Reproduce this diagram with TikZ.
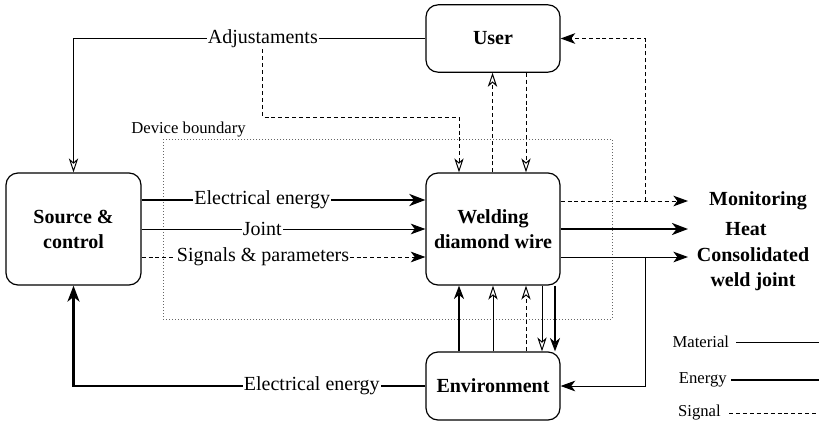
\documentclass[tikz,border=0pt]{standalone}
\usepackage{fontspec}
\setmainfont{Liberation Serif}
\usetikzlibrary{arrows.meta}
\begin{document}
\begin{tikzpicture}[x=0.75pt,y=-0.75pt,
  box/.style={draw,line width=0.9pt,rounded corners=9pt,align=center,
    font=\bfseries\fontsize{15}{18.75}\selectfont,minimum width=100.5pt},
  lbl/.style={fill=white,inner xsep=0.8pt,inner ysep=1pt,font=\fontsize{15}{18}\selectfont},
  outlbl/.style={font=\bfseries\fontsize{15}{18.75}\selectfont,align=center,inner sep=0pt},
  leg/.style={font=\fontsize{12.5}{15}\selectfont,anchor=east},
  mat/.style={line width=0.75pt},
  en/.style={line width=1.9pt},
  sig/.style={line width=0.75pt,dash pattern=on 3pt off 2.2pt},
  fa/.style={-{Stealth[length=11pt,width=8pt,inset=3pt]}},
  fat/.style={-{Stealth[length=12pt,width=9pt,inset=3.5pt]}},
  oa/.style={-{Stealth[open,length=10.5pt,width=7pt,inset=3pt]}},
  oat/.style={-{Stealth[open,length=10pt,width=7.5pt,inset=3pt,line width=1.5pt]}},
]
\useasboundingbox (0,0) rectangle (820,425);

% device boundary
\draw[line width=0.6pt,gray!80!black,dash pattern=on 0.75pt off 1.5pt] (163,139) rectangle (612,319);
\node[font=\fontsize{12.5}{15}\selectfont,inner sep=0pt] (devb) at (188.5,130) {Device boundary};

% boxes
\node[box,minimum height=50.5pt] (user) at (493,38.5) {User};
\node[box,minimum height=84pt] (weld) at (493,229) {Welding\\diamond wire};
\node[box,minimum height=51pt] (env) at (493,386) {Environment};
\node[box,minimum height=84pt,minimum width=101.25pt] (src) at (73.5,229) {Source \&\\control};

% output labels
\node[outlbl] (mon) at (758,201) {Monitoring};
\node[outlbl] (heat) at (746,229) {Heat};
\node[outlbl] (cons) at (753,269.5) {Consolidated\\weld joint};
\coordinate (tipx) at (688,0);
\coordinate (br) at (645,0);

% Adjustaments
\draw[mat,oa] (user.west) -- node[lbl,pos=0.462] (adj) {Adjustaments} (src.north |- user.west) -- (src.north);
\coordinate (a2) at (459,117);
\draw[sig,oa] (adj.south) |- (a2) -- (a2 |- weld.north);

% user <-> weld
\draw[sig,oa] (weld.north -| 492.5,0) -- (user.south -| 492.5,0);
\draw[sig,oa] (user.south -| 526,0) -- (weld.north -| 526,0);

% source -> weld
\draw[en,fat] (src.east |- 0,200) -- node[lbl,pos=0.425] {Electrical energy} (weld.west |- 0,200);
\draw[mat,fa] (src.east |- 0,229) -- node[lbl,pos=0.425] {Joint} (weld.west |- 0,229);
\draw[sig,fa] (src.east |- 0,257) -- node[lbl,pos=0.428] {Signals \& parameters} (weld.west |- 0,257);

% outputs
\draw[sig,fa] (weld.east |- mon) -- (tipx |- mon);
\draw[sig,fa] (br |- mon) |- (user.east);
\draw[en,fat] (weld.east |- heat) -- (tipx |- heat);
\draw[mat,fa] (weld.east |- 0,257) -- (tipx |- 0,257);
\draw[mat,fa] (br |- 0,257) |- (env.east);

% env -> source
\draw[en,fat] (env.west) -- node[lbl,pos=0.323] {Electrical energy} (src.south |- env.west) -- (src.south);

% env <-> weld
\draw[en,oat] (env.north -| 459,0) -- (weld.south -| 459,0);
\draw[mat,oa] (env.north -| 493,0) -- (weld.south -| 493,0);
\draw[sig,oa] (env.north -| 526,0) -- (weld.south -| 526,0);
\draw[mat,oa] (weld.south -| 542,0) -- (env.north -| 542,0);
\draw[en,oat] (weld.south -| 555,0) -- (env.north -| 555,0);

% legend
\coordinate (lend) at (819,0);
\node[leg,inner xsep=5pt] (lm) at (736,342) {Material};
\draw[mat] (lm.east) -- (lend |- lm.east);
\node[leg,inner xsep=3pt] (le) at (731,380) {Energy};
\draw[en] (le.east) -- (lend |- le.east);
\node[leg,inner xsep=6pt] (ls) at (729,413) {Signal};
\draw[sig] (ls.east) -- (lend |- ls.east);
\end{tikzpicture}
\end{document}
